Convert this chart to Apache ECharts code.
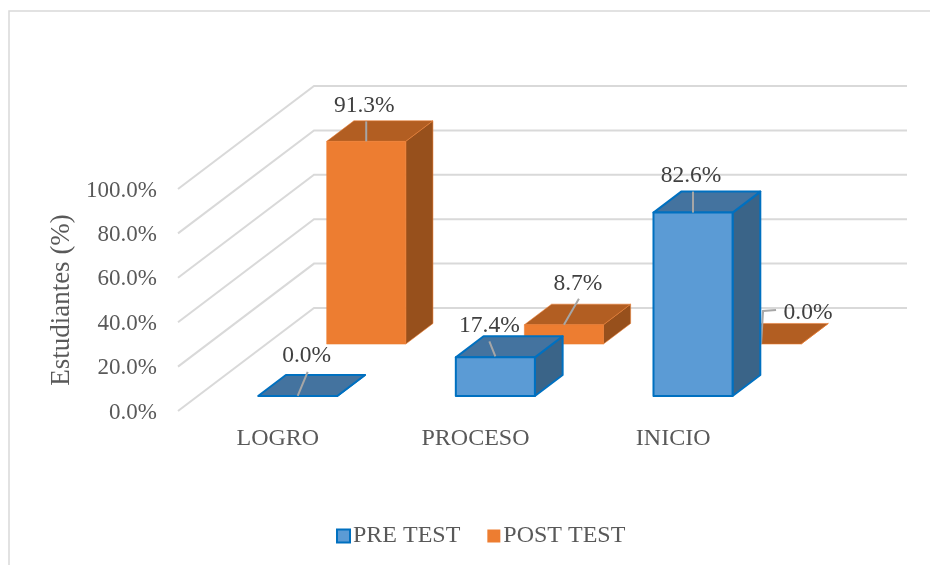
<!DOCTYPE html>
<html>
<head>
<meta charset="utf-8">
<script src="https://cdn.jsdelivr.net/npm/echarts@6/dist/echarts.min.js"></script>
<style>
html,body{margin:0;padding:0;background:#fff}
#main{width:930px;height:565px}
</style>
</head>
<body>
<div id="main"></div>
<script>
const categories = ['LOGRO', 'PROCESO', 'INICIO']
const preTest = [0.0, 17.4, 82.6]
const postTest = [91.3, 8.7, 0.0]
const yTicks = [0, 20, 40, 60, 80, 100]

// fake 3D: how far the floor runs back, in pixels
const depthX = 136
const depthY = -103
const barShare = 0.4

const font = '"Liberation Serif", "Times New Roman", serif'

// label text offset and leader line points, relative to the top centre of each bar front
const preLabels = [
    {text: [9, -40.5], line: [[0, 0], [10, -24]]},
    {text: [-6, -31.5], line: [[0, -1], [-6, -16]]},
    {text: [-2, -37], line: [[0, 0], [0, -21]]}
]
const postLabels = [
    {text: [-2, -35.5], line: [[0, 0], [0, -20]]},
    {text: [14, -41], line: [[0, 0], [15, -26]]},
    {text: [46.5, -31.5], line: [[-0.5, 0], [1.5, -33], [14.5, -34]]}
]

function wallLines(params, api) {
    let rect = params.coordSys
    let y = api.coord([0, api.value(1)])[1]
    // the wall starts 1px left of the grid, the bars sit on the grid itself
    let x = rect.x - 1
    return {
        type: 'polyline',
        silent: true,
        shape: {points: [
            [x, y],
            [x + depthX, y + depthY],
            [x + rect.width + depthX, y + depthY]
        ]},
        style: {stroke: '#D9D9D9', lineWidth: 2, fill: null}
    }
}

function barRenderer(look, labels) {
    return function (params, api) {
        let i = api.value(0)
        let value = api.value(1)
        let band = api.size([1, 0])[0]
        let w = band * barShare
        let cx = api.coord([i, 0])[0]
        let baseY = api.coord([i, 0])[1]
        let topY = api.coord([i, value])[1]
        let sx = depthX * look.front
        let sy = depthY * look.front
        let bx = depthX * (look.back - look.front)
        let by = depthY * (look.back - look.front)
        let x0 = cx - w / 2 + sx
        let x1 = x0 + w
        let y0 = baseY + sy
        let y1 = topY + sy
        let edge = {stroke: look.border, lineWidth: look.borderWidth, lineJoin: 'round'}
        let children = []
        children.push({
            type: 'polygon',
            shape: {points: [[x1, y0], [x1 + bx, y0 + by], [x1 + bx, y1 + by], [x1, y1]]},
            style: Object.assign({fill: look.side}, edge)
        })
        children.push({
            type: 'polygon',
            shape: {points: [[x0, y1], [x1, y1], [x1 + bx, y1 + by], [x0 + bx, y1 + by]]},
            style: Object.assign({fill: look.top}, edge)
        })
        if (value > 0) {
            children.push({
                type: 'rect',
                shape: {x: x0, y: y1, width: w, height: y0 - y1},
                style: Object.assign({fill: look.fill}, edge)
            })
        }
        let ax = (x0 + x1) / 2
        let lab = labels[i]
        children.push({
            type: 'polyline',
            shape: {points: lab.line.map(p => [ax + p[0], y1 + p[1]])},
            style: {stroke: '#A6A6A6', lineWidth: 2, fill: null}
        })
        children.push({
            type: 'text',
            style: {
                x: ax + lab.text[0],
                y: y1 + lab.text[1],
                text: value.toFixed(1) + '%',
                font: '23.5px ' + font,
                fill: '#404040',
                align: 'center',
                verticalAlign: 'middle'
            }
        })
        return {type: 'group', children: children}
    }
}

const preLook = {front: 0.146, back: 0.35, fill: '#5B9BD5', side: '#3A6488', top: '#44739F', border: '#0070C0', borderWidth: 2}
const postLook = {front: 0.65, back: 0.85, fill: '#ED7D31', side: '#97501C', top: '#B25E22', border: 'rgba(237,125,49,0.55)', borderWidth: 1}

let chart = echarts.init(document.getElementById('main'))
chart.setOption({
    animation: false,
    backgroundColor: '#fff',
    graphic: [{
        type: 'polyline',
        silent: true,
        shape: {points: [[9, 565], [9, 11], [930, 11]]},
        style: {stroke: '#D9D9D9', lineWidth: 1.5, fill: null}
    }],
    grid: {left: 179, right: 158, top: 189, bottom: 154},
    legend: {
        left: 331,
        top: 519,
        itemWidth: 13,
        itemHeight: 13,
        itemGap: 27,
        icon: 'rect',
        textStyle: {fontFamily: font, fontSize: 24, color: '#595959', padding: [0, 0, 0, -2]},
        data: [
            {name: 'PRE TEST', itemStyle: {color: '#5B9BD5', borderColor: '#0070C0', borderWidth: 2}},
            {name: 'POST TEST', itemStyle: {color: '#ED7D31', borderWidth: 0}}
        ]
    },
    xAxis: {
        type: 'category',
        data: categories,
        axisLine: {show: false},
        axisTick: {show: false},
        axisLabel: {fontFamily: font, fontSize: 24, color: '#595959', margin: 16}
    },
    yAxis: {
        type: 'value',
        min: 0,
        max: 100,
        interval: 20,
        name: 'Estudiantes (%)',
        nameLocation: 'middle',
        nameGap: 102,
        nameTextStyle: {fontFamily: font, fontSize: 27, color: '#595959'},
        axisLine: {show: false},
        axisTick: {show: false},
        splitLine: {show: false},
        axisLabel: {
            fontFamily: font,
            fontSize: 23,
            color: '#595959',
            margin: 22,
            verticalAlign: 'top',
            lineHeight: 3,
            formatter: v => v.toFixed(1) + '%'
        }
    },
    series: [
        {
            type: 'custom',
            name: 'walls',
            renderItem: wallLines,
            data: yTicks.map(v => [0, v]),
            encode: {x: 0, y: 1},
            silent: true,
            z: 1
        },
        {
            type: 'custom',
            name: 'POST TEST',
            renderItem: barRenderer(postLook, postLabels),
            itemStyle: {color: '#ED7D31'},
            data: postTest.map((v, i) => [i, v]),
            encode: {x: 0, y: 1},
            clip: false,
            z: 2
        },
        {
            type: 'custom',
            name: 'PRE TEST',
            renderItem: barRenderer(preLook, preLabels),
            itemStyle: {color: '#5B9BD5'},
            data: preTest.map((v, i) => [i, v]),
            encode: {x: 0, y: 1},
            clip: false,
            z: 3
        }
    ]
})
</script>
</body>
</html>
